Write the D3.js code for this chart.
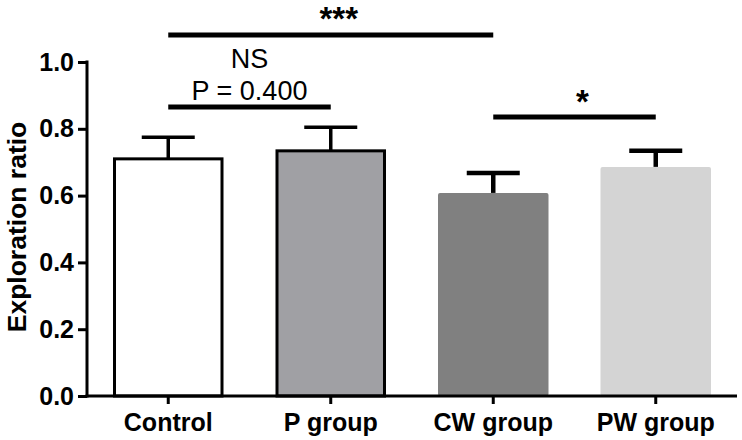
<!DOCTYPE html>
<html>
<head>
<meta charset="utf-8">
<script src="https://cdn.jsdelivr.net/npm/d3@7"></script>
<style>
  body { margin: 0; background: #fff; }
  svg { display: block; font-family: "Liberation Sans", Arial, sans-serif; }
</style>
</head>
<body>
<div id="chart"></div>
<script>
const groups = ["Control", "P group", "CW group", "PW group"];
const means = [0.710, 0.734, 0.608, 0.686];
const errors = [0.065, 0.071, 0.060, 0.048];
const fills = ["#ffffff", "#a0a0a4", "#808080", "#d4d4d4"];
const outlined = [true, true, false, false];
const yTicks = [0.0, 0.2, 0.4, 0.6, 0.8, 1.0];

// significance brackets: from group, to group, height (data units), label lines
const brackets = [
  { from: "Control", to: "CW group", level: 1.081, labels: ["***"] },
  { from: "Control", to: "P group", level: 0.865, labels: ["NS", "P = 0.400"] },
  { from: "CW group", to: "PW group", level: 0.835, labels: ["*"] }
];

const W = 742, H = 440;
const svg = d3.select("#chart").append("svg")
    .attr("width", W)
    .attr("height", H);

const x = d3.scaleBand()
    .domain(groups)
    .range([87, 737])
    .paddingInner(0.32)
    .paddingOuter(0.16);

const y = d3.scaleLinear()
    .domain([0, 1])
    .range([396, 62]);

const data = groups.map((g, i) => ({ g: g, m: means[i], e: errors[i], fill: fills[i], outl: outlined[i] }));

// bars
svg.selectAll(".bar")
    .data(data)
    .join("rect")
    .attr("class", "bar")
    .attr("x", d => x(d.g) + (d.outl ? 1.5 : 0))
    .attr("y", d => y(d.m))
    .attr("width", d => x.bandwidth() - (d.outl ? 3 : 0))
    .attr("height", d => y(0) - y(d.m))
    .attr("rx", d => d.outl ? 0 : 2)
    .attr("fill", d => d.fill)
    .attr("stroke", d => d.outl ? "#000" : "none")
    .attr("stroke-width", 3);

// error bars (upper only)
const capW = 53;
const err = svg.selectAll(".err")
    .data(data)
    .join("g")
    .attr("class", "err")
    .attr("stroke", "#000")
    .attr("stroke-width", d => d.outl ? 3.5 : 4.5);
err.append("line")
    .attr("x1", d => x(d.g) + x.bandwidth() / 2)
    .attr("x2", d => x(d.g) + x.bandwidth() / 2)
    .attr("y1", d => y(d.m))
    .attr("y2", d => y(d.m + d.e));
err.append("line")
    .attr("x1", d => x(d.g) + x.bandwidth() / 2 - capW / 2)
    .attr("x2", d => x(d.g) + x.bandwidth() / 2 + capW / 2)
    .attr("y1", d => y(d.m + d.e))
    .attr("y2", d => y(d.m + d.e));

// y axis
const yAxis = svg.append("g")
    .attr("transform", "translate(87,0)")
    .call(d3.axisLeft(y).tickValues(yTicks).tickFormat(d3.format(".1f")).tickSize(9).tickSizeOuter(0).tickPadding(4));
yAxis.select(".domain").attr("stroke-width", 3).attr("d", `M0,${y(1) - 1.5}V${y(0) + 1.5}`);
yAxis.selectAll(".tick line").attr("stroke-width", 3);
yAxis.selectAll(".tick text")
    .attr("font-size", 25)
    .attr("font-weight", "bold")
    .attr("fill", "#000");

// x axis
const xAxis = svg.append("g")
    .attr("transform", `translate(0,${y(0)})`)
    .call(d3.axisBottom(x).tickSize(8).tickSizeOuter(0).tickPadding(9));
xAxis.select(".domain").attr("stroke-width", 3).attr("d", "M85.5,0H737");
xAxis.selectAll(".tick line").attr("stroke-width", 3);
xAxis.selectAll(".tick text")
    .attr("font-size", 25)
    .attr("font-weight", "bold")
    .attr("fill", "#000");

// y axis title
svg.append("text")
    .attr("transform", "translate(26,227) rotate(-90)")
    .attr("text-anchor", "middle")
    .attr("font-size", 26.5)
    .attr("font-weight", "bold")
    .text("Exploration ratio");

// significance brackets
const cx = g => x(g) + x.bandwidth() / 2;
brackets.forEach(b => {
  const x1 = cx(b.from), x2 = cx(b.to);
  svg.append("line")
      .attr("x1", x1).attr("x2", x2)
      .attr("y1", y(b.level)).attr("y2", y(b.level))
      .attr("stroke", "#000")
      .attr("stroke-width", 5);
  const n = b.labels.length;
  b.labels.forEach((t, i) => {
    const star = t.indexOf("*") === 0;
    svg.append("text")
        .attr("x", (x1 + x2) / 2 + (star ? 8 : 0))
        .attr("y", y(b.level) - (star ? 4.5 : 7) - (n - 1 - i) * 32)
        .attr("text-anchor", "middle")
        .attr("font-size", star ? 33 : 27)
        .attr("font-weight", star ? "bold" : "normal")
        .text(t);
  });
});
</script>
</body>
</html>
